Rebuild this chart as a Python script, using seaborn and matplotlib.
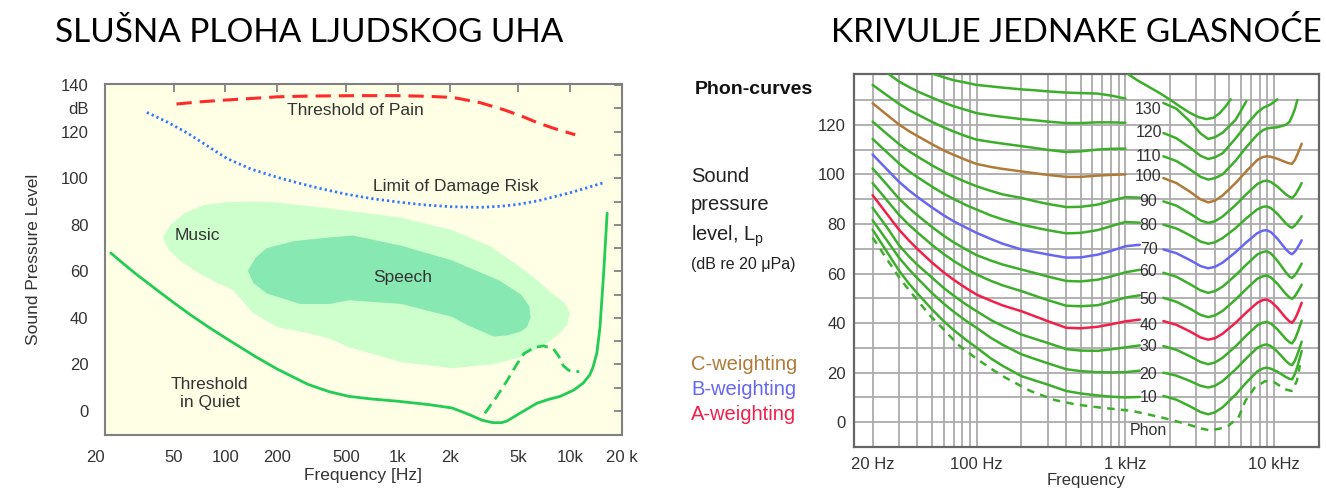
import numpy as np
import pandas as pd
import matplotlib
matplotlib.use("Agg")
import matplotlib.pyplot as plt
import seaborn as sns
from matplotlib.ticker import FixedLocator, NullFormatter

sns.set_theme(style="white")
plt.rcParams['font.family'] = ['Liberation Sans', 'DejaVu Sans']
plt.rcParams['mathtext.fontset'] = 'custom'
plt.rcParams['mathtext.rm'] = 'Liberation Sans'

# ---------------- lijevi graf: slušna ploha ----------------
quiet_freq = [21.6, 25, 30, 40, 50, 63, 80, 102, 150, 200, 300, 400, 520, 700, 1000, 1500,
              2070, 2630, 3100, 3570, 4000, 4300, 5100, 6400, 7500, 8750, 10500, 11900,
              13000, 13600, 14300, 14900, 15600, 16400]
quiet_spl = [67.9, 63.9, 59.1, 52, 46.6, 41.2, 36, 31, 23.3, 18, 11.5, 8.3, 6.3, 5.2, 4.2, 2.8,
             1.3, -1.7, -4, -5, -5, -4.3, -1, 3.3, 5, 6.3, 9, 12,
             15.5, 19, 25, 36, 57.6, 85]

quiet_alt_freq = [3200, 3700, 4300, 4900, 5400, 6200, 7000, 8000, 8600, 9100, 9800, 10400, 11300]
quiet_alt_spl = [-1, 5.5, 13, 20, 24.7, 27.3, 28, 26.7, 23.5, 19.6, 17.5, 16.9, 17]

pain_freq = [52, 70, 100, 150, 200, 300, 404, 600, 1000, 1500, 2100, 3000, 4100, 5200, 6400,
             8000, 10700]
pain_spl = [131.9, 132.8, 133.6, 134.4, 135, 135.3, 135.4, 135.5, 135.5, 135.2, 134.7, 132.5,
            129.5, 126.8, 124, 121.5, 118.7]

damage_freq = [35, 45, 60, 80, 102, 140, 200, 270, 354, 500, 700, 1000, 1400, 2000, 3000,
               4000, 5000, 6500, 8000, 10000, 12000, 15500]
damage_spl = [128.3, 124.5, 119.5, 113.5, 108.5, 104, 100.4, 97.8, 95.6, 93.2, 91.3, 89.8,
              88.6, 87.8, 87.5, 88, 88.8, 90.3, 92, 93.8, 95.5, 98]

music_freq = [43.4, 48, 58, 75, 102, 150, 200, 354, 520, 1050, 2070, 3500, 5100, 6500, 8000,
              9300, 9950, 9600, 8750, 7000, 5100, 3500, 2070, 1050, 520, 404, 300, 200, 145,
              111, 90, 71, 55, 47]
music_spl = [74.6, 80, 85, 88.5, 89.8, 90, 89.6, 87.5, 86, 83, 77.7, 70.5, 62, 56, 50,
             46.5, 42, 37, 33.5, 28, 23, 20, 18.4, 21, 27.4, 31, 33.5, 36, 42,
             51.9, 55, 59, 64.5, 69]

speech_freq = [135, 150, 174, 250, 404, 550, 1050, 2070, 3900, 5200, 5800, 5900, 5600, 5100,
               4300, 3600, 2520, 2070, 1050, 520, 404, 271, 174, 145]
speech_spl = [60.3, 66, 70, 73, 74.6, 75.4, 71, 64.7, 56, 50, 45, 40, 36, 34,
              32.5, 32, 37, 40.4, 46, 47.6, 46, 46, 50.5, 55]

left_xticks = [20, 50, 100, 200, 500, 1000, 2000, 5000, 10000, 20000]
left_xlabels = ['20', '50', '100', '200', '500', '1k', '2k', '5k', '10k', '20 k']

# ---------------- desni graf: krivulje jednake glasnoće ----------------
nan = np.nan
freq_low = [20, 25, 30, 35, 40, 50, 60, 70, 85, 100, 125, 150, 200, 250, 300, 400, 500, 650,
            800, 1000, 1250]
freq_high = [1800, 2200, 2700, 3200, 3600, 4000, 4500, 5500, 6500, 7700, 8400, 8900, 9500,
             10500, 12000, 12700, 13200, 13800, 14300, 14800, 15300]

phon_low = {
    130: [nan, nan, nan, nan, 144.5, 140.7, 139.2, 138, 137, 136.1, 135.5, 135, 134.3, 133.9,
          133.5, 133, 132.8, 132.6, 131.8, 130.6, nan],
    120: [145, 141, 137.5, 135.3, 133.5, 131, 129, 127.5, 126, 124.7, 123.8, 123.2, 122.3,
          121.8, 121.3, 120.7, 120.7, 121, 121, 120.8, nan],
    110: [136.1, 131.9, 128.5, 126, 124.2, 121.2, 119, 117.3, 115.4, 114, 113.1, 112.4, 111.4,
          110.6, 109.9, 109, 109.3, 110, 110.3, 110.4, nan],
    100: [128.7, 124, 120.2, 117.5, 115.5, 112.2, 109.7, 107.9, 105.8, 104.2, 103, 102.2, 101.2,
          100.4, 99.8, 99, 99, 99.5, 99.8, 100, nan],
    90: [121.3, 116.3, 112.3, 109.4, 107.2, 103.7, 101.1, 99.1, 96.9, 95.2, 93.3, 91.9, 90.5,
         89.1, 88.1, 86.8, 86.9, 87.8, 89.3, 90.8, 90.6],
    80: [114.3, 108.9, 104.5, 101.3, 98.9, 95.1, 92.2, 90.1, 87.6, 85.8, 83.4, 81.8, 79.7,
         78.5, 77.5, 76.2, 76.4, 77.5, 79.1, 80.8, 80.5],
    70: [108, 102, 97.1, 93.6, 90.9, 86.7, 83.5, 81.1, 78.5, 76.4, 73.9, 72, 69.7,
         68.6, 67.7, 66.4, 66.5, 67.6, 69.1, 71, 71.6],
    60: [102.4, 95.8, 90.3, 86.5, 83.5, 78.8, 75.3, 72.6, 69.7, 67.4, 65.2, 63.6, 61.6,
         60.1, 58.8, 57, 56.8, 57.5, 58.8, 60.5, 61.5],
    50: [96.5, 89.5, 83.8, 79.7, 76.6, 71.6, 67.9, 65.1, 62, 59.6, 57, 55.2, 52.9,
         50.9, 49.3, 47, 46.8, 47.2, 48.6, 50.3, 51.2],
    40: [91.6, 84, 77.8, 73.4, 69.9, 64.5, 60.5, 57.5, 54.1, 51.5, 49, 47.1, 44.8,
         42.6, 40.8, 38.1, 37.9, 38.5, 39.5, 40.7, 41.4],
    30: [86.5, 78.6, 71.5, 67, 63.5, 58.4, 54.2, 51.1, 47.5, 44.8, 41.2, 38.8, 35.4,
         33.5, 32, 29.5, 28.9, 28.8, 29.4, 30.2, 31],
    20: [81.5, 73.3, 66.5, 61.8, 58.1, 52.2, 47.9, 44.6, 40.9, 38.1, 34, 31.2, 27.4,
         25.4, 23.8, 21.4, 20.6, 20.2, 20.1, 20.2, 20.8],
    10: [77.7, 68.7, 61.3, 56, 52, 45.6, 40.8, 37.2, 33.2, 30.1, 25.7, 22.7, 18.6,
         16.7, 15.2, 12.6, 11.6, 10.8, 10.3, 10, 10.2],
}
phon_high = {
    130: [128.8, 126.5, 121.5, 116.5, 114.3, 115, 116.8, 122, 129.5, nan, nan, nan, nan,
          nan, nan, nan, nan, nan, nan, nan, nan],
    120: [116.7, 114.6, 110.9, 107.5, 106.2, 106.9, 108.5, 114.5, 120, 125, 126.8, 127.5, 128.3,
          130.3, nan, nan, nan, nan, nan, nan, nan],
    110: [107.3, 105.4, 102.1, 99, 97.9, 98.5, 100, 105.5, 111, 116, 117.8, 118.5, 118.8,
          119, 120, 121.3, 123.5, 126.5, 130, nan, nan],
    100: [98.5, 96.5, 93.1, 89.9, 88.7, 89.4, 91.5, 96.5, 101.3, 105.8, 107, 107.3, 107.1,
          106.3, 104.9, 104.4, 104.3, 105.9, 108, 110.1, 112.4],
    90: [89.1, 87.4, 84.3, 81.4, 80.4, 81.1, 83, 87.6, 92, 96.1, 97.2, 97.5, 96.9,
         95.1, 91.9, 90.9, 90.5, 91.7, 93.2, 94.8, 96.5],
    80: [79.7, 78.2, 75.5, 72.9, 72, 72.6, 74.3, 78.3, 82.3, 85.9, 86.9, 87.1, 86.4,
         84.1, 80.2, 78.9, 78.5, 79.4, 80.6, 81.8, 83.1],
    70: [69.7, 68.2, 65.5, 63, 62.1, 62.7, 64.4, 68.6, 72.6, 76.3, 77.3, 77.5, 76.7,
         74.1, 69.7, 68.3, 67.8, 68.9, 70.3, 71.8, 73.4],
    60: [60.3, 58.7, 55.8, 53.2, 52.2, 52.9, 54.7, 59.3, 63.6, 67.7, 68.7, 69, 68.1,
         65.2, 60.4, 58.7, 58.2, 59.4, 60.8, 62.4, 64],
    50: [50.2, 48.6, 45.9, 43.3, 42.4, 43.1, 44.9, 49.5, 53.8, 57.9, 58.9, 59.2, 58.4,
         55.9, 51.7, 50.3, 49.8, 50.9, 52.4, 53.9, 55.5],
    40: [40.8, 39.3, 36.7, 34.2, 33.3, 33.9, 35.7, 40.1, 44.3, 48.2, 49.3, 49.5, 48.7,
         46.2, 42, 40.6, 40.1, 41.7, 43.7, 45.9, 48.2],
    30: [30.7, 29.2, 26.7, 24.3, 23.4, 24.1, 26, 30.6, 35, 39.1, 40.2, 40.5, 39.8,
         37.5, 33.5, 32.2, 31.8, 33.6, 35.9, 38.4, 41],
    20: [20, 18.8, 16.7, 14.7, 14, 14.7, 16.6, 21.3, 25.8, 30, 31.1, 31.4, 30.7,
         28.5, 24.7, 23.4, 23, 24.9, 27.3, 29.8, 32.5],
    10: [10.6, 9.1, 6.5, 4.1, 3.2, 4, 6, 11.1, 16, 20.5, 21.7, 22, 21.6,
         20.4, 18.2, 17.5, 17.3, 19.6, 22.4, 25.5, 28.7],
}
freq_140 = [1040, 1200, 1400, 1700, 2000, 2350, 2700, 3100, 3500, 3900, 4300, 4700, 5100]
spl_140 = [140.5, 138, 135.7, 132.8, 130.1, 127.2, 124.9, 123.1, 122.3, 122.8, 124.7, 127.3, 130.3]

freq_thr = [20, 22.6, 26.4, 30.8, 37.9, 49, 60, 75, 98, 125, 156, 230, 338, 460, 676, 1100,
            1760, 2600, 3200, 3700, 4300, 4900, 5750, 6400, 7400, 8700, 10100, 11800, 13100,
            14200, 14900]
spl_thr = [74.5, 69.7, 63.6, 57.6, 50.9, 42.8, 37.5, 31.3, 26, 21.6, 18, 12.6, 8.9, 7.2, 5.9,
           4.6, 1.9, -0.8, -2.5, -3.3, -2.6, -1.5, 1.9, 8.6, 14, 16.6, 16, 13.3, 12.6,
           16.6, 23]

phon_label_y = [126, 116.9, 107.3, 99.2, 89.1, 79.5, 69.7, 60.7, 49.5, 39.2, 30.5, 19.1, 9.9]
phon_labels = ['130', '120', '110', '100', '90', '80', '70', '60', '50', '40', '30', '20', '10']

right_xticks = [20, 100, 1000, 10000]
right_xlabels = ['20 Hz', '100 Hz', '1 kHz', '10 kHz']

green = '#3DAE2B'
weight_colors = {100: '#B07A38', 70: '#6666F2', 40: '#F0204A'}

# ---------------- crtanje ----------------
fig = plt.figure(figsize=(13.26, 4.94), dpi=100)
fig.patch.set_facecolor('white')

fig.text(55 / 1326, 1 - 33 / 494, 'SLUŠNA PLOHA LJUDSKOG UHA', fontsize=24,
         family=['Lato', 'DejaVu Sans'], ha='left', va='center', color='black')
fig.text(1322 / 1326, 1 - 33 / 494, 'KRIVULJE JEDNAKE GLASNOĆE', fontsize=24,
         family=['Lato', 'DejaVu Sans'], ha='right', va='center', color='black')

# lijevo
ax1 = fig.add_axes([105 / 1326, 1 - 435 / 494, 517 / 1326, 351 / 494])
ax1.set_facecolor('#FFFFE6')
ax1.set_xscale('log')
ax1.fill(music_freq, music_spl, color='#CCFFCC', lw=0, zorder=1)
ax1.fill(speech_freq, speech_spl, color='#88E8B2', lw=0, zorder=1)

sns.lineplot(x=quiet_freq, y=quiet_spl, ax=ax1, color='#22CC55', linewidth=2,
             estimator=None, zorder=3)
sns.lineplot(x=quiet_alt_freq, y=quiet_alt_spl, ax=ax1, color='#22CC55', linewidth=2,
             estimator=None, linestyle=(0, (4, 2.2)), zorder=3)
sns.lineplot(x=pain_freq, y=pain_spl, ax=ax1, color='#FF2A2A', linewidth=2.2,
             estimator=None, linestyle=(0, (5, 2.6)), zorder=3)
sns.lineplot(x=damage_freq, y=damage_spl, ax=ax1, color='#3377FF', linewidth=2,
             estimator=None, linestyle=(0, (0.8, 1.1)), zorder=3)

ax1.set_xlim(20, 20000)
ax1.set_ylim(-10.3, 140.5)
ax1.xaxis.set_major_locator(FixedLocator(left_xticks))
ax1.xaxis.set_minor_locator(FixedLocator([]))
ax1.set_xticklabels(left_xlabels)
ax1.get_xticklabels()[0].set_horizontalalignment('right')
ax1.set_yticks(list(range(0, 150, 10)))
ax1.set_yticklabels([str(v) if v % 20 == 0 else ('dB' if v == 130 else '') for v in range(0, 150, 10)])
ax1.tick_params(axis='both', direction='in', length=6, width=1.2, color='#777777',
                top=True, right=True, labelsize=12, labelcolor='#333333')
ax1.tick_params(axis='x', pad=11)
ax1.tick_params(axis='y', pad=12)
for s in ax1.spines.values():
    s.set_color('#808080')
    s.set_linewidth(1.5)
ax1.set_xlabel('Frequency [Hz]', fontsize=12.5, color='#333333', labelpad=2)
ax1.set_ylabel('Sound Pressure Level', fontsize=12.5, color='#333333', labelpad=14)

txt = dict(fontsize=12.5, color='#333333', ha='center', va='center', zorder=4)
ax1.text(570, 129, 'Threshold of Pain', **txt)
ax1.text(2180, 96.5, 'Limit of Damage Risk', **txt)
ax1.text(69, 75.4, 'Music', **txt)
ax1.text(1070, 57.4, 'Speech', **txt)
ax1.text(81, 7.7, 'Threshold\nin Quiet', linespacing=1.25, **txt)

# desno
rows = []
for phon, vals in phon_low.items():
    for f, v in zip(freq_low, vals):
        rows.append((str(phon), 'low', f, v))
for phon, vals in phon_high.items():
    for f, v in zip(freq_high, vals):
        rows.append((str(phon), 'high', f, v))
for f, v in zip(freq_140, spl_140):
    rows.append(('140', 'low', f, v))
curves = pd.DataFrame(rows, columns=['phon', 'seg', 'freq', 'spl']).dropna()
palette = {str(p): weight_colors.get(p, green) for p in list(phon_low) + [140]}

ax2 = fig.add_axes([854 / 1326, 1 - 447 / 494, 465 / 1326, 373 / 494])
ax2.set_facecolor('white')
ax2.set_xscale('log')
sns.lineplot(data=curves, x='freq', y='spl', hue='phon', units='seg', estimator=None,
             palette=palette, linewidth=1.8, legend=False, ax=ax2, zorder=3)
sns.lineplot(x=freq_thr, y=spl_thr, ax=ax2, color=green, linewidth=1.8, estimator=None,
             linestyle=(0, (3, 2.5)), zorder=3)

ax2.set_xlim(15, 20000)
ax2.set_ylim(-10, 140.5)
minor_x = [m * d for d in (10, 100, 1000, 10000) for m in range(1, 10)
           if m * d not in right_xticks and 15 < m * d < 20000]
ax2.xaxis.set_major_locator(FixedLocator(right_xticks))
ax2.xaxis.set_minor_locator(FixedLocator(minor_x))
ax2.xaxis.set_minor_formatter(NullFormatter())
ax2.set_xticklabels(right_xlabels)
ax2.set_yticks(list(range(0, 130, 20)))
ax2.yaxis.set_minor_locator(FixedLocator(list(range(10, 140, 20))))
ax2.grid(True, which='both', color='#ABABAB', linewidth=1.3)
ax2.set_axisbelow(True)
ax2.tick_params(axis='both', which='both', length=0, labelsize=12, labelcolor='#333333')
ax2.tick_params(axis='x', pad=7)
ax2.tick_params(axis='y', pad=6)
for s in ax2.spines.values():
    s.set_color('#666666')
    s.set_linewidth(1.6)
ax2.set_xlabel('Frequency', fontsize=12, color='#333333', labelpad=1)
ax2.set_ylabel('')

for lab, y in zip(phon_labels, phon_label_y):
    ax2.text(1430, y, lab, fontsize=11.5, color='#333333', ha='center', va='center', zorder=4)
ax2.text(1430, -3.5, 'Phon', fontsize=11.5, color='#333333', ha='center', va='center', zorder=4)

fig.text(695 / 1326, 1 - 89 / 494, 'Phon-curves', fontsize=14, fontweight='bold',
         ha='left', va='center', color='#111111')
fig.text(691 / 1326, 1 - 208 / 494, 'Sound\npressure\nlevel, L$_\\mathregular{p}$', fontsize=14.5,
         ha='left', va='center', linespacing=1.6, color='#222222')
fig.text(691 / 1326, 1 - 265 / 494, '(dB re 20 \u03bcPa)', fontsize=11.5,
         ha='left', va='center', color='#222222')
fig.text(691 / 1326, 1 - 364 / 494, 'C-weighting', fontsize=14.5, ha='left', va='center',
         color=weight_colors[100])
fig.text(691 / 1326, 1 - 389 / 494, 'B-weighting', fontsize=14.5, ha='left', va='center',
         color=weight_colors[70])
fig.text(691 / 1326, 1 - 414 / 494, 'A-weighting', fontsize=14.5, ha='left', va='center',
         color=weight_colors[40])

fig.savefig('out.png', dpi=100, facecolor='white')
